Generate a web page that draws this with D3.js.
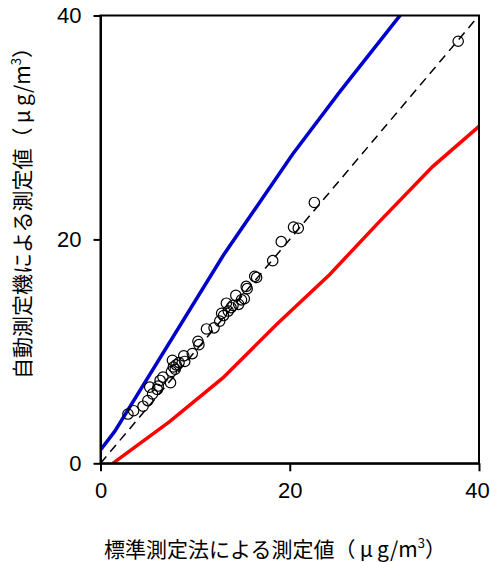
<!DOCTYPE html>
<html><head><meta charset="utf-8">
<script src="https://cdn.jsdelivr.net/npm/d3@7"></script>
<style>body{margin:0;background:#fff}svg{display:block}</style>
</head><body>
<script>
const xTicks=[0,20,40];
const yTicks=[0,20,40];
const upperLine=[[0,1.2],[1.5,2.85],[13,18.6],[20.3,27.6],[25.3,33.2],[31.6,39.95],[34,42.5]];
const lowerLine=[[1.3,0],[7.3,3.73],[12.9,7.6],[18.6,12.4],[24.2,16.85],[29.6,21.7],[35.1,26.5],[40,30.1]];
const identityLine=[[0,0],[40,40]];
const points=[[2.9,4.4],[3.5,4.7],[4.5,5.1],[5.0,5.6],[5.5,6.2],[5.2,6.8],[6.0,6.6],[6.3,7.4],[6.1,6.9],[7.4,7.2],[6.6,7.7],[7.5,8.2],[7.7,8.6],[7.6,9.2],[8.0,8.8],[8.3,9.0],[7.9,8.4],[8.8,9.6],[8.9,9.1],[9.7,9.8],[10.3,10.9],[10.4,10.6],[11.2,12.0],[12.0,12.1],[12.6,12.7],[12.8,13.4],[13.0,13.2],[13.3,14.3],[13.5,13.6],[13.8,13.9],[14.0,14.1],[14.3,15.0],[14.6,14.2],[14.9,14.6],[15.2,14.7],[15.4,15.8],[15.5,15.6],[16.3,16.7],[16.5,16.6],[18.2,18.1],[19.1,19.8],[20.4,21.1],[20.9,21.0],[22.6,23.3],[37.8,37.7]];

const W=490,H=562;
const L=100.5,R=479,T=15.5,B=463.3;
const svg=d3.select("body").append("svg").attr("width",W).attr("height",H);
const x=d3.scaleLinear().domain([0,40]).range([L,R]);
const y=d3.scaleLinear().domain([0,40]).range([B,T]);

svg.append("clipPath").attr("id","clip").append("rect")
  .attr("x",L).attr("y",T).attr("width",R-L).attr("height",B-T);

const line=d3.line().x(d=>x(d[0])).y(d=>y(d[1]));
const g=svg.append("g").attr("clip-path","url(#clip)");
g.append("path").datum(identityLine).attr("d",line).attr("fill","none")
  .attr("stroke","#000").attr("stroke-width",1.5).attr("stroke-dasharray","9,6");
g.append("path").datum(upperLine).attr("d",line).attr("fill","none")
  .attr("stroke","#0000cc").attr("stroke-width",3.5);
g.append("path").datum(lowerLine).attr("d",line).attr("fill","none")
  .attr("stroke","#ff0000").attr("stroke-width",3.5);
svg.append("g").selectAll("circle").data(points).join("circle")
  .attr("cx",d=>x(d[0])).attr("cy",d=>y(d[1])).attr("r",5.2)
  .attr("fill","none").attr("stroke","#000").attr("stroke-width",1.2);

svg.append("rect").attr("x",L).attr("y",T).attr("width",R-L).attr("height",B-T)
  .attr("fill","none").attr("stroke","#000").attr("stroke-width",2);

const font="'Liberation Sans', Arial, sans-serif";
const xAxis=d3.axisBottom(x).tickValues(xTicks).tickSize(8).tickSizeOuter(0).tickPadding(11);
const yAxis=d3.axisLeft(y).tickValues(yTicks).tickSize(7).tickSizeOuter(0).tickPadding(12);
const gx=svg.append("g").attr("transform",`translate(0,${B})`).call(xAxis);
const gy=svg.append("g").attr("transform",`translate(${L},0)`).call(yAxis);
[gx,gy].forEach(a=>{
  a.selectAll("path").attr("stroke","#000").attr("stroke-width",2);
  a.selectAll("line").attr("stroke","#000").attr("stroke-width",2);
  a.selectAll("text").attr("font-family",font).attr("font-size",22).attr("fill","#000");
});
gx.selectAll(".tick").filter(d=>d===40).select("text").attr("dx",-2);

const jp="'Noto Sans CJK JP', sans-serif";
const xt=svg.append("text").attr("x",275).attr("y",557).attr("text-anchor","middle")
  .attr("font-family",jp).attr("font-size",21).attr("fill","#000");
xt.append("tspan").text("標準測定法による測定値（\u2009μ\u2009g/m");
xt.append("tspan").attr("font-size",13).attr("dy",-9).text("3");
xt.append("tspan").attr("dy",9).text("）");

const yt=svg.append("text").attr("transform","translate(30,208) rotate(-90)").attr("text-anchor","middle")
  .attr("font-family",jp).attr("font-size",21).attr("fill","#000");
yt.append("tspan").text("自動測定機による測定値（\u2009μ\u2009g/m");
yt.append("tspan").attr("font-size",13).attr("dy",-9).text("3");
yt.append("tspan").attr("dy",9).text("）");
</script>
</body></html>
